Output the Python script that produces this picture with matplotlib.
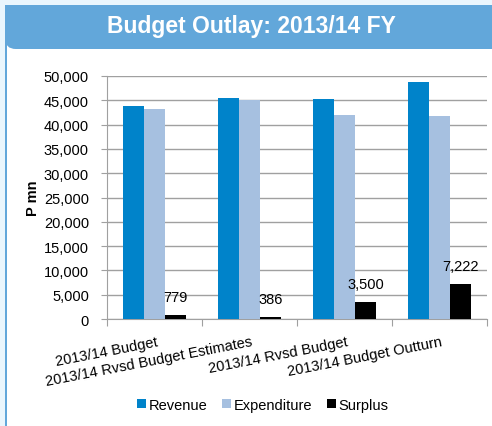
import matplotlib
matplotlib.use("Agg")
import matplotlib.pyplot as plt
from matplotlib.patches import Rectangle, FancyBboxPatch
import numpy as np

categories = ["2013/14 Budget", "2013/14 Rvsd Budget Estimates",
              "2013/14 Rvsd Budget", "2013/14 Budget Outturn"]
revenue = [43900, 45400, 45300, 48850]
expenditure = [43200, 45000, 41950, 41700]
surplus = [779, 386, 3500, 7222]
surplus_labels = ["779", "386", "3,500", "7,222"]
series_names = ["Revenue", "Expenditure", "Surplus"]
colors = ["#0083CA", "#A6C0E0", "#000000"]
title = "Budget Outlay: 2013/14 FY"

W, H = 492, 427
FS = 10.5
fig = plt.figure(figsize=(W/100, H/100), dpi=100)
fig.patch.set_facecolor("white")

banner = "#62A7DA"
fig.add_artist(Rectangle((0, 0), 1, 1, transform=fig.transFigure,
                         facecolor="#EAF6FD", edgecolor="none", zorder=-10))
fig.add_artist(Rectangle((7/W, 0), 1, 1 - 6/H, transform=fig.transFigure,
                         facecolor="white", edgecolor="none", zorder=-9))
fig.add_artist(Rectangle((5/W, 0), 2.2/W, 1 - 6/H, transform=fig.transFigure,
                         facecolor=banner, edgecolor="none", zorder=-8))
fig.add_artist(FancyBboxPatch((5/W, 1 - 50/H), 1, 44/H,
                              boxstyle="round,pad=0,rounding_size=0.022",
                              transform=fig.transFigure, mutation_aspect=W/H,
                              facecolor=banner, edgecolor="none", zorder=-7))
fig.add_artist(Rectangle((5/W, 1 - 30/H), 1, 24/H, transform=fig.transFigure,
                         facecolor=banner, edgecolor="none", zorder=-6))
fig.add_artist(Rectangle((0.5, 1 - 50/H), 0.5, 44/H, transform=fig.transFigure,
                         facecolor=banner, edgecolor="none", zorder=-6))
fig.text(0.512, 1 - 27/H, title, ha="center", va="center", color="white",
         fontsize=16.5, fontweight="bold", family="Liberation Sans")

ax = fig.add_axes([107/W, 1 - 320/H, 380/W, 243/H])
x = np.arange(len(categories))
bw = 0.22
ax.bar(x - bw, revenue, bw, color=colors[0], label=series_names[0], zorder=3)
ax.bar(x, expenditure, bw, color=colors[1], label=series_names[1], zorder=3)
bars = ax.bar(x + bw, surplus, bw, color=colors[2], label=series_names[2], zorder=3)
for b, lab in zip(bars, surplus_labels):
    ax.annotate(lab, (b.get_x() + b.get_width()/2, b.get_height()),
                xytext=(0, 8), textcoords="offset points", ha="center",
                va="bottom", fontsize=FS, family="Liberation Sans")

ax.set_xlim(-0.5, len(categories) - 0.5)
ax.set_ylim(0, 50000)
ax.set_yticks(np.arange(0, 50001, 5000))
ax.set_yticklabels([f"{v:,}" for v in range(0, 50001, 5000)],
                   fontsize=FS, family="Liberation Sans")
ax.yaxis.grid(True, color="#A0A0A0", linewidth=1, zorder=0)
ax.set_axisbelow(True)
for s in ["top", "right"]:
    ax.spines[s].set_visible(False)
for s in ["left", "bottom"]:
    ax.spines[s].set_color("#A0A0A0")
ax.tick_params(axis="y", length=4, color="#A0A0A0", pad=9)
ax.set_xticks(np.arange(-0.5, len(categories)), minor=False)
ax.set_xticklabels([])
ax.tick_params(axis="x", length=5, color="#A0A0A0")
for i, c in enumerate(categories):
    ax.annotate(c, (i, 0), xytext=(1, -11), textcoords="offset points",
                ha="right", va="top", rotation=11, rotation_mode="anchor",
                fontsize=FS, family="Liberation Sans")

ax.set_ylabel("P mn", fontsize=FS, fontweight="bold", family="Liberation Sans",
              labelpad=3)

fig.legend(loc="center", bbox_to_anchor=(263/W, 1 - 406/H), ncol=3,
           frameon=False, handlelength=0.6, handleheight=0.6,
           handletextpad=0.2, columnspacing=1.0,
           prop={"family": "Liberation Sans", "size": FS})

fig.savefig("out.png", dpi=100)
